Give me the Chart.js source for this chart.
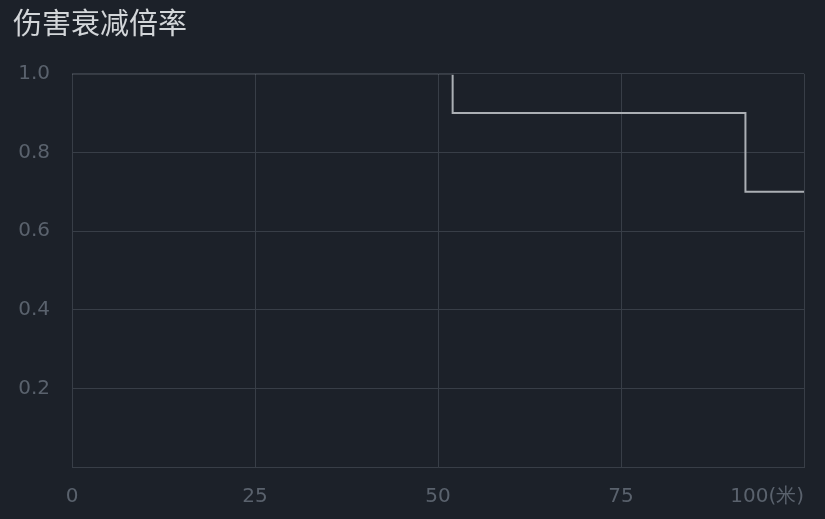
<!DOCTYPE html>
<html lang="zh">
<head>
<meta charset="UTF-8">
<title>伤害衰减倍率</title>
<script src="https://cdn.jsdelivr.net/npm/chart.js"></script>
<style>
  html, body { margin: 0; padding: 0; background: #1c2129; }
  #wrap { width: 825px; height: 519px; }
</style>
</head>
<body>
<div id="wrap"><canvas id="falloff"></canvas></div>
<script>
// distance (m) where each multiplier begins, and the multiplier
const distances = [0, 52, 92, 100];
const multipliers = [1.0, 0.9, 0.7, 0.7];
const xTicks = [0, 25, 50, 75, 100];
const xTickLabels = ['0', '25', '50', '75', '100(米)'];
const yTicks = [0, 0.2, 0.4, 0.6, 0.8, 1.0];

const gridColor = '#383e47';
const tickColor = '#5a626d';
const tickFont = { family: '"DejaVu Sans", sans-serif', size: 20 };

// last x label is right-aligned on the 100 gridline
const lastLabel = {
    id: 'lastLabel',
    afterDraw(chart) {
        const sx = chart.scales.x;
        const ctx = chart.ctx;
        ctx.save();
        ctx.font = tickFont.size + 'px ' + tickFont.family;
        ctx.fillStyle = tickColor;
        ctx.textAlign = 'right';
        ctx.textBaseline = 'middle';
        const v = xTicks[xTicks.length - 1];
        ctx.fillText(xTickLabels[xTickLabels.length - 1], sx.getPixelForValue(v), 497);
        ctx.restore();
    }
};

new Chart(document.getElementById('falloff'), {
    type: 'line',
    data: {
        datasets: [{
            data: distances.map((d, i) => ({ x: d, y: multipliers[i] })),
            stepped: 'before',
            borderColor: '#abafb4',
            borderWidth: 2,
            pointRadius: 0,
            fill: false,
            // the 1.0 run sits under the top edge, as in the original
            clip: { left: 2, right: 2, top: -1, bottom: 2 }
        }]
    },
    options: {
        responsive: true,
        maintainAspectRatio: false,
        animation: false,
        layout: { padding: { left: 13, right: 21, top: 0, bottom: 0 } },
        plugins: {
            legend: { display: false },
            tooltip: { enabled: false },
            title: {
                display: true,
                text: '伤害衰减倍率',
                align: 'start',
                color: '#d3d6d9',
                font: { family: '"Noto Sans CJK SC", sans-serif', size: 29, weight: 'normal' },
                padding: { top: 6, bottom: 33 }
            }
        },
        scales: {
            x: {
                type: 'linear',
                min: 0,
                max: 100,
                afterBuildTicks: s => { s.ticks = xTicks.map(v => ({ value: v })); },
                afterFit: s => { s.height = 52; },
                ticks: {
                    color: tickColor,
                    font: tickFont,
                    padding: 18,
                    maxRotation: 0,
                    callback: v => {
                        const i = xTicks.indexOf(v);
                        return i === xTicks.length - 1 ? '' : xTickLabels[i];
                    }
                },
                grid: { color: gridColor, drawTicks: false },
                border: { color: gridColor }
            },
            y: {
                min: 0,
                max: 1,
                afterBuildTicks: s => { s.ticks = yTicks.map(v => ({ value: v })); },
                afterFit: s => { s.width = 59; },
                ticks: {
                    color: tickColor,
                    font: tickFont,
                    padding: 22,
                    callback: v => v === 0 ? '' : v.toFixed(1)
                },
                grid: { color: gridColor, drawTicks: false },
                border: { color: gridColor }
            }
        }
    },
    plugins: [lastLabel]
});
</script>
</body>
</html>
